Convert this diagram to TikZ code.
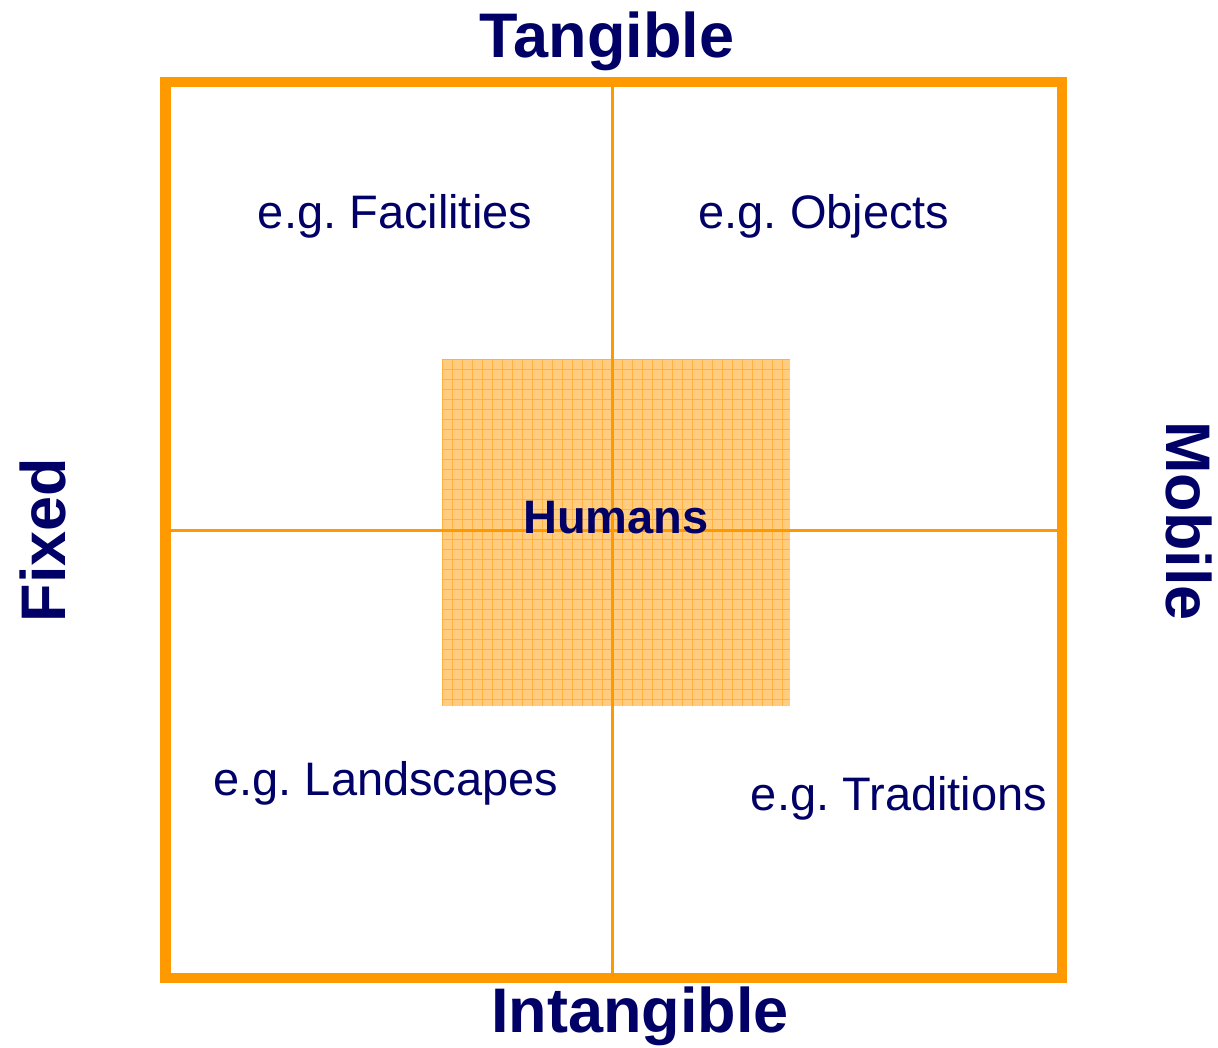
\documentclass[tikz,border=0pt]{standalone}
\usepackage{fontspec}
\setmainfont{Liberation Sans}
\usepackage{tikz}

\definecolor{navy}{RGB}{0,0,102}
\definecolor{frame}{RGB}{255,153,0}
\definecolor{paleorange}{RGB}{255,204,128}

\begin{document}
\frenchspacing
\begin{tikzpicture}[x=1pt,y=-1pt]
	\useasboundingbox (0,0) rectangle (1218,1047);

	% humans square with grid paper look
	\fill[paleorange] (442,359) rectangle (790,706);
	\foreach \k in {0,...,34}{
	   \draw[frame!85,line width=0.9pt,opacity=0.7] (442+10*\k,359) -- (442+10*\k,706);
	   \draw[frame!85,line width=0.9pt,opacity=0.7] (442,359+10*\k) -- (790,359+10*\k);
	}

	% quadrants
	\draw[frame,line width=3pt] (612.5,84) -- (612.5,976);
	\draw[frame,line width=3pt] (168,530) -- (1060,530);
	\draw[frame,line width=10.5pt] (165.5,82) rectangle (1062,978);

	% axis labels
	\node[text=navy,font=\fontsize{63}{70}\selectfont\bfseries] (tangible) at (607,41) {Tangible};
	\node[text=navy,font=\fontsize{63}{70}\selectfont\bfseries] (intangible) at (640,1016) {Intangible};
	\node[text=navy,font=\fontsize{63}{70}\selectfont\bfseries,rotate=90] (fixed) at (43,540) {Fixed};
	\node[text=navy,font=\fontsize{63}{70}\selectfont\bfseries,rotate=-90] (mobile) at (1189,521) {Mobile};

	% examples
	\node[text=navy,font=\fontsize{47}{52}\selectfont] (facilities) at (395,216) {e.g. Facilities};
	\node[text=navy,font=\fontsize{47}{52}\selectfont] (objects) at (824,216) {e.g. Objects};
	\node[text=navy,font=\fontsize{47}{52}\selectfont] (landscapes) at (386,783) {e.g. Landscapes};
	\node[text=navy,font=\fontsize{47}{52}\selectfont] (traditions) at (899,798) {e.g. Traditions};
	\node[text=navy,font=\fontsize{47}{52}\selectfont\bfseries] (humans) at (616,518) {Humans};
\end{tikzpicture}
\end{document}
